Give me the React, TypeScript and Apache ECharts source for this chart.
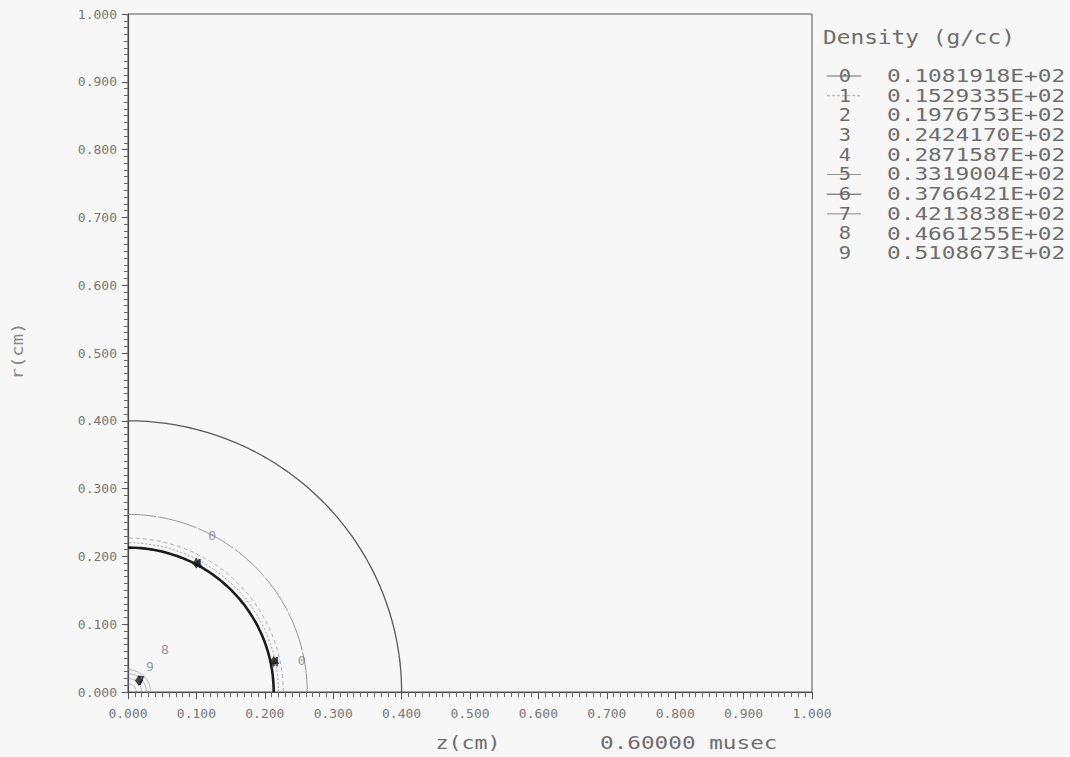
import React, { useEffect, useRef } from "react";
import * as echarts from "echarts";

// ---- data ----
const axisTicks = [0, 0.1, 0.2, 0.3, 0.4, 0.5, 0.6, 0.7, 0.8, 0.9, 1.0];
// contour radii (cm) and their drawing style keys
const contourRadii = [0.4, 0.262, 0.227, 0.22, 0.213, 0.033, 0.027, 0.02, 0.012];
const contourStyles = ["boundary", "thinGray", "dashedBlue", "dotted", "thick", "faint", "faint", "faint", "faint"];
// contour labels: [z, r, text]
const contourLabels: [number, number, string][] = [
  [0.123, 0.231, "0"],
  [0.254, 0.047, "0"],
  [0.054, 0.062, "8"],
  [0.032, 0.037, "9"],
];
// dense overlapping label clusters: [z, r, dominant label]
const clusterSites: [number, number, string][] = [
  [0.1, 0.19, "4"],
  [0.213, 0.045, "4"],
  [0.016, 0.017, "7"],
];
// legend
const legendTitle = "Density (g/cc)";
const levelLabels = ["0", "1", "2", "3", "4", "5", "6", "7", "8", "9"];
const densityLevels = [
  "0.1081918E+02",
  "0.1529335E+02",
  "0.1976753E+02",
  "0.2424170E+02",
  "0.2871587E+02",
  "0.3319004E+02",
  "0.3766421E+02",
  "0.4213838E+02",
  "0.4661255E+02",
  "0.5108673E+02",
];
const legendLineStyles: (null | { color: string; dash?: number[] })[] = [
  { color: "#666" },
  { color: "#aaa", dash: [3, 2] },
  null,
  null,
  null,
  { color: "#999" },
  { color: "#555" },
  { color: "#888" },
  null,
  null,
];
const xTitle = "z(cm)";
const yTitle = "r(cm)";
const timeLabel = "0.60000 musec";

const FONT = "DejaVu Sans Mono";
const TXT = "#6e6e6e";

const styleMap: Record<string, any> = {
  boundary: { stroke: "#5a5a5a", lineWidth: 1.3 },
  thinGray: { stroke: "#949494", lineWidth: 1, lineDash: [40, 2] },
  dashedBlue: { stroke: "#a8acc0", lineWidth: 1, lineDash: [4, 3] },
  dotted: { stroke: "#a0a0a0", lineWidth: 1, lineDash: [2, 2] },
  thick: { stroke: "#1c1c1c", lineWidth: 2.6 },
  faint: { stroke: "#9a9a9a", lineWidth: 0.8 },
};

export default function App() {
  const ref = useRef<HTMLDivElement>(null);
  useEffect(() => {
    if (!ref.current) return;
    const chart = echarts.init(ref.current, null, { renderer: "svg" });

    const axisCommon = {
      type: "value",
      min: 0,
      max: 1,
      interval: 0.1,
      axisLine: { show: true, lineStyle: { color: "#4a4a4a", width: 1.2 } },
      axisTick: { show: true, length: 6, lineStyle: { color: "#555" } },
      minorTick: { show: true, splitNumber: 10, length: 4, lineStyle: { color: "#666" } },
      splitLine: { show: false },
      axisLabel: {
        fontFamily: FONT,
        fontSize: 13,
        color: "#777",
        formatter: (v: number) => v.toFixed(3),
        customValues: axisTicks,
      },
    };

    const legendGraphics: any[] = [];
    legendGraphics.push({
      type: "text",
      x: 823,
      y: 38,
      scaleX: 1.2,
      style: { text: legendTitle, font: `19px "${FONT}"`, fill: TXT, verticalAlign: "middle", textAlign: "left" },
    });
    levelLabels.forEach((lab, i) => {
      const y = 76 + i * 19.7;
      const ls = legendLineStyles[i];
      if (ls) {
        legendGraphics.push({
          type: "line",
          shape: { x1: 827, y1: y, x2: 861, y2: y },
          style: { stroke: ls.color, lineWidth: 1, lineDash: ls.dash },
        });
      }
      legendGraphics.push({
        type: "text",
        x: 845,
        y,
        scaleX: 1.2,
        style: { text: lab, font: `17px "${FONT}"`, fill: TXT, verticalAlign: "middle", textAlign: "center" },
      });
      legendGraphics.push({
        type: "text",
        x: 887,
        y,
        scaleX: 1.34,
        style: { text: densityLevels[i], font: `17px "${FONT}"`, fill: TXT, verticalAlign: "middle", textAlign: "left" },
      });
    });

    chart.setOption({
      animation: false,
      backgroundColor: "#f7f7f7",
      grid: {
        left: 128,
        top: 14,
        width: 684,
        height: 678,
        show: true,
        borderColor: "#555",
        borderWidth: 1,
        backgroundColor: "transparent",
      },
      xAxis: { ...axisCommon, axisLabel: { ...axisCommon.axisLabel, margin: 15 }, axisTick: { ...axisCommon.axisTick, length: 7 }, minorTick: { ...axisCommon.minorTick, length: 5 } },
      yAxis: { ...axisCommon, axisLabel: { ...axisCommon.axisLabel, margin: 11 } },
      series: [
        {
          type: "custom",
          coordinateSystem: "cartesian2d",
          data: contourRadii.map((r, i) => [r, i]),
          encode: { x: 0, y: 0 },
          renderItem: (params: any, api: any) => {
            const r = api.value(0);
            const st = styleMap[contourStyles[params.dataIndex]];
            const pts: number[][] = [];
            const n = 90;
            for (let k = 0; k <= n; k++) {
              const t = (k / n) * (Math.PI / 2);
              pts.push(api.coord([r * Math.cos(t), r * Math.sin(t)]));
            }
            return {
              type: "polyline",
              shape: { points: pts },
              style: { ...st, fill: "none" },
            };
          },
          z: 2,
        },
        {
          type: "scatter",
          symbolSize: 0,
          data: contourLabels.map((d) => ({ value: [d[0], d[1]], name: d[2] })),
          label: {
            show: true,
            position: "inside",
            formatter: (p: any) => p.name,
            fontFamily: FONT,
            fontSize: 13,
            color: "#7a7a7a",
          },
          z: 3,
        },
        {
          // dark blobs where several level labels pile up
          type: "scatter",
          symbol: "diamond",
          symbolSize: [8, 11],
          itemStyle: { color: "#1a1a1a" },
          data: clusterSites.map((d) => ({ value: [d[0], d[1]], name: d[2] })),
          label: {
            show: true,
            position: "inside",
            formatter: (p: any) => p.name,
            fontFamily: FONT,
            fontSize: 13,
            fontWeight: "bold",
            color: "#111",
            offset: [2, 0],
          },
          z: 4,
        },
      ],
      graphic: [
        ...legendGraphics,
        {
          type: "text",
          x: 468,
          y: 743,
          scaleX: 1.2,
          style: { text: xTitle, font: `18px "${FONT}"`, fill: TXT, verticalAlign: "middle", textAlign: "center" },
        },
        {
          type: "text",
          x: 600,
          y: 743,
          scaleX: 1.26,
          style: { text: timeLabel, font: `18px "${FONT}"`, fill: TXT, verticalAlign: "middle", textAlign: "left" },
        },
        {
          type: "text",
          x: 18,
          y: 351,
          rotation: Math.PI / 2,
          scaleX: 1.26,
          style: { text: yTitle, font: `15px "${FONT}"`, fill: "#888", verticalAlign: "middle", textAlign: "center" },
        },
      ],
    });
    return () => chart.dispose();
  }, []);
  return (
    <div
      ref={ref}
      style={{ position: "fixed", left: 0, top: 0, width: 1070, height: 757 }}
    />
  );
}
